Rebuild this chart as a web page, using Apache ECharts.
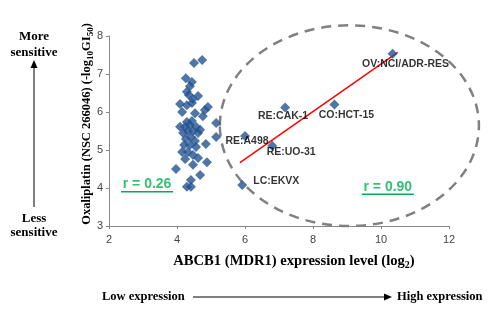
<!DOCTYPE html>
<html>
<head>
<meta charset="utf-8">
<script src="https://cdn.jsdelivr.net/npm/echarts@6/dist/echarts.min.js"></script>
<style>html,body{margin:0;padding:0;background:#fff}#c{width:500px;height:316px}</style>
</head>
<body>
<div id="c"></div>
<script>
// ---- data ----
var xTicks = [2, 4, 6, 8, 10, 12];
var yTicks = [3, 4, 5, 6, 7, 8];
var clusterX = [4.50,4.74,4.26,4.44,4.38,4.29,4.35,4.62,4.09,4.29,4.44,4.47,4.91,4.82,4.53,4.76,5.15,5.15,4.29,4.44,4.09,4.24,4.38,4.56,4.18,4.32,4.47,4.62,4.26,4.41,4.53,4.21,4.38,4.56,4.85,4.15,4.32,4.47,4.24,4.47,4.62,4.88,3.97,4.68,4.41,4.29,4.41,4.15,4.68];
var clusterY = [7.29,7.37,6.89,6.79,6.68,6.53,6.45,6.42,6.21,6.18,6.24,6.34,6.13,6.05,5.97,5.89,5.71,5.34,5.74,5.76,5.61,5.61,5.66,5.61,5.45,5.50,5.50,5.45,5.29,5.34,5.24,5.13,5.13,5.08,5.16,4.95,4.95,4.87,4.76,4.61,4.79,4.68,4.50,4.34,4.21,4.03,4.03,6.00,5.53];
var namedLabels = ['OV:NCI/ADR-RES', 'RE:CAK-1', 'CO:HCT-15', 'RE:A498', 'RE:UO-31', 'LC:EKVX'];
var namedX = [10.34, 7.18, 8.63, 6.00, 6.80, 5.92];
var namedY = [7.53, 6.12, 6.20, 5.37, 5.11, 4.08];
var fitX = [5.85, 10.49];
var fitY = [4.67, 7.57];
var ellipseData = [9.07, 5.64, 3.81, 2.64]; // centre x, centre y, radius x, radius y (data units)
var rLabels = ['r = 0.26', 'r = 0.90'];
var rX = [3.12, 10.2];
var rY = [4.10, 4.03];

// ---- styles ----
var labelOffsets = [[13,10],[-2,9],[12,11],[2,5],[19,6],[34,-4]];
var markColor = '#245391';
var serif = 'Liberation Serif, Times New Roman, serif';

var chart = echarts.init(document.getElementById('c'));
var clusterPts = clusterX.map(function(x,i){return [x, clusterY[i]];});
var namedPts = namedX.map(function(x,i){
  return {value:[x, namedY[i]], label:{show:true, formatter:namedLabels[i], position:'inside', offset:labelOffsets[i],
    color:'#000', fontFamily:'Liberation Sans, Arial', fontWeight:'bold', fontSize:10.5, align:'center', verticalAlign:'middle'}};
});
var fitPts = fitX.map(function(x,i){return [x, fitY[i]];});
var rPts = rX.map(function(x,i){return {value:[x, rY[i]], label:{formatter:rLabels[i]}};});

var baseGraphic = [
  {type:'text', x:34, y:45, style:{text:'More\nsensitive', fontFamily:serif, fontWeight:'bold', fontSize:13, fill:'#000', align:'center', verticalAlign:'middle', lineHeight:16}},
  {type:'text', x:34, y:226, style:{text:'Less\nsensitive', fontFamily:serif, fontWeight:'bold', fontSize:13, fill:'#000', align:'center', verticalAlign:'middle', lineHeight:14}},
  {type:'line', shape:{x1:34, y1:207, x2:34, y2:66}, style:{stroke:'#000', lineWidth:1}},
  {type:'polygon', shape:{points:[[34,60],[30.5,68],[37.5,68]]}, style:{fill:'#000'}},
  {type:'text', x:102, y:297, style:{text:'Low expression', fontFamily:serif, fontWeight:'bold', fontSize:12.5, fill:'#000', align:'left', verticalAlign:'middle'}},
  {type:'line', shape:{x1:193, y1:297, x2:385, y2:297}, style:{stroke:'#000', lineWidth:1}},
  {type:'polygon', shape:{points:[[392,297],[384,293.5],[384,300.5]]}, style:{fill:'#000'}},
  {type:'text', x:397, y:297, style:{text:'High expression', fontFamily:serif, fontWeight:'bold', fontSize:12.5, fill:'#000', align:'left', verticalAlign:'middle'}}
];

chart.setOption({
  animation:false,
  grid:{left:109, right:51, top:36, bottom:90},
  xAxis:{type:'value', min:xTicks[0], max:xTicks[xTicks.length-1], interval:2,
    axisLine:{show:true, lineStyle:{color:'#888', width:1}},
    axisTick:{show:true, length:3, lineStyle:{color:'#888'}},
    splitLine:{show:false},
    axisLabel:{color:'#444', fontSize:11, fontFamily:'Liberation Sans, Arial', margin:8},
    name:'{a|ABCB1 (MDR1) expression level (log}{s|2}{a|)}',
    nameLocation:'middle', nameGap:26, nameMoveOverlap:false,
    nameTextStyle:{padding:[0,0,0,30], rich:{a:{fontFamily:serif, fontWeight:'bold', fontSize:14.6, color:'#000', lineHeight:18}, s:{fontFamily:serif, fontWeight:'bold', fontSize:10, color:'#000', lineHeight:10, verticalAlign:'bottom', padding:[8,0,0,0]}}}
  },
  yAxis:{type:'value', min:yTicks[0], max:yTicks[yTicks.length-1], interval:1,
    axisLine:{show:true, lineStyle:{color:'#888', width:1}},
    axisTick:{show:true, length:3, lineStyle:{color:'#888'}},
    splitLine:{show:false},
    axisLabel:{color:'#444', fontSize:11, fontFamily:'Liberation Sans, Arial', margin:6},
    name:'{a|Oxaliplatin (NSC 266046) (-log}{s|10}{a|GI}{s|50}{a|)}',
    nameLocation:'middle', nameGap:14, nameMoveOverlap:false,
    nameTextStyle:{padding:[0,0,0,14], rich:{a:{fontFamily:serif, fontWeight:'bold', fontSize:12.5, color:'#000', lineHeight:16}, s:{fontFamily:serif, fontWeight:'bold', fontSize:9, color:'#000', lineHeight:9, verticalAlign:'bottom', padding:[7,0,0,0]}}}
  },
  series:[
    {type:'custom', silent:true, z:1, clip:false,
     data:[ellipseData],
     renderItem:function(params, api){
       var c = api.coord([api.value(0), api.value(1)]);
       var s = api.size([api.value(2), api.value(3)]);
       return {type:'ellipse', shape:{cx:c[0], cy:c[1], rx:s[0], ry:s[1]},
         style:{fill:null, stroke:'#808080', lineWidth:2.5, lineDash:[10,7]}};
     }},
    {type:'line', data:fitPts, symbol:'none', lineStyle:{color:'#FF0000', width:1.5}, z:2},
    {type:'scatter', data:clusterPts, symbol:'diamond', symbolSize:[10,10], itemStyle:{color:markColor}, z:3},
    {type:'scatter', data:namedPts, symbol:'diamond', symbolSize:[10,10], itemStyle:{color:markColor}, z:3},
    {type:'scatter', data:rPts, symbolSize:1, itemStyle:{color:'rgba(0,0,0,0)'}, z:4,
     label:{show:true, position:'inside', color:'#00B050', fontFamily:'Liberation Sans, Arial', fontWeight:'bold', fontSize:14,
       align:'center', verticalAlign:'middle'}}
  ],
  graphic:baseGraphic
});

// underlines below the r labels, placed through the chart's own coordinate conversion
var underlines = rPts.map(function(p){
  var c = chart.convertToPixel({gridIndex:0}, p.value);
  return {type:'line', shape:{x1:c[0]-26, y1:c[1]+7.5, x2:c[0]+26, y2:c[1]+7.5}, style:{stroke:'#00B050', lineWidth:1.5}};
});
chart.setOption({graphic: baseGraphic.concat(underlines)}, {replaceMerge:['graphic']});
</script>
</body>
</html>
